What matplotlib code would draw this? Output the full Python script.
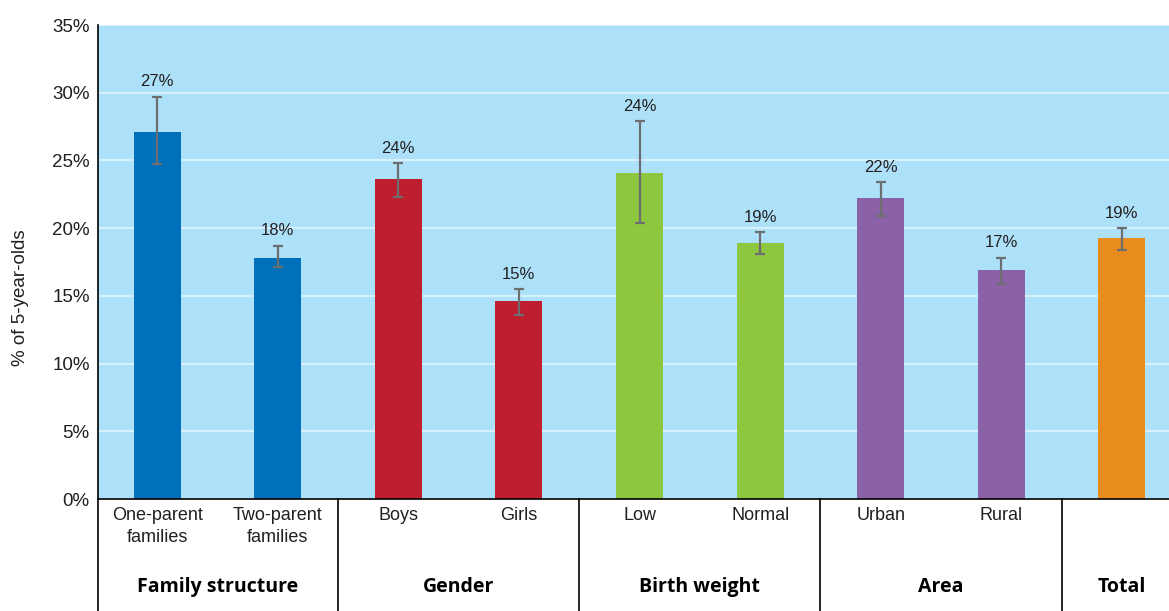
import numpy as np
import matplotlib
matplotlib.use("Agg")
import matplotlib.pyplot as plt

# Data
categories = ["One-parent\nfamilies", "Two-parent\nfamilies", "Boys", "Girls",
              "Low", "Normal", "Urban", "Rural", ""]
values = [27.1, 17.8, 23.6, 14.6, 24.1, 18.9, 22.2, 16.9, 19.3]
err_low = [24.7, 17.1, 22.3, 13.6, 20.4, 18.1, 20.9, 15.9, 18.4]
err_high = [29.7, 18.7, 24.8, 15.5, 27.9, 19.7, 23.4, 17.8, 20.0]
value_labels = ["27%", "18%", "24%", "15%", "24%", "19%", "22%", "17%", "19%"]
groups = ["Family structure", "Gender", "Birth weight", "Area", "Total"]
group_sizes = [2, 2, 2, 2, 1]
group_colors = ["#0070BA", "#BE1E2D", "#8DC63F", "#8B62A8", "#E88C1E"]

plt.rcParams['font.family'] = ['Liberation Sans', 'DejaVu Sans']

fig = plt.figure(figsize=(11.69, 6.11), dpi=100)
ax = fig.add_axes([98 / 1169, 112 / 611, 1 - 98 / 1169, 474 / 611])
ax.set_facecolor("#ADE1FA")

x = np.arange(len(values))
colors = []
for c, n in zip(group_colors, group_sizes):
    colors += [c] * n

ax.set_ylim(0, 35)
ax.set_xlim(-0.49, 8.39)
ax.set_yticks(np.arange(0, 36, 5))
ax.set_yticklabels([f"{v}%" for v in range(0, 36, 5)], fontsize=13.5, color="#231F20")
ax.yaxis.grid(True, color="#D6F0FC", linewidth=1.5)
ax.set_axisbelow(True)

ax.bar(x, values, width=0.39, color=colors, zorder=2)
yerr = [np.array(values) - np.array(err_low), np.array(err_high) - np.array(values)]
ax.errorbar(x, values, yerr=yerr, fmt="none", ecolor="#6D6E70", elinewidth=1.6,
            capsize=3.8, capthick=1.6, zorder=3)
for xi, hi, lab in zip(x, err_high, value_labels):
    ax.text(xi, hi + 0.55, lab, ha="center", va="bottom", fontsize=12, color="#231F20")

ax.set_xticks(x)
ax.set_xticklabels(categories, fontsize=13, linespacing=1.35, color="#231F20")
ax.tick_params(axis="both", length=0)
ax.tick_params(axis="x", pad=6)
ax.tick_params(axis="y", pad=6)

for s in ["top", "right"]:
    ax.spines[s].set_visible(False)
ax.spines["left"].set_color("black")
ax.spines["bottom"].set_color("black")
ax.spines["left"].set_linewidth(1.2)
ax.spines["bottom"].set_linewidth(1.2)

ax.set_ylabel("% of 5-year-olds", fontsize=13.5, color="#231F20")
ax.yaxis.set_label_coords(-0.064, 0.424)

# group table below the axis
trans = ax.get_xaxis_transform()
bounds = [-0.49, 1.5, 3.5, 5.5, 7.5]
for b in bounds:
    ax.plot([b, b], [0, -0.3], color="black", lw=1.2, transform=trans, clip_on=False)
start = 0
for g, n in zip(groups, group_sizes):
    center = start + (n - 1) / 2
    ax.text(center, -0.185, g, transform=trans, ha="center", va="center",
            fontsize=14, fontweight="bold", family=["Open Sans", "DejaVu Sans"])
    start += n

fig.savefig("out.png", dpi=100)
